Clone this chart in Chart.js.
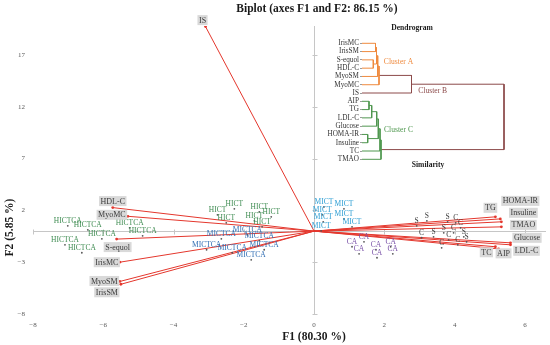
<!DOCTYPE html>
<html>
<head>
<meta charset="utf-8">
<script src="https://cdn.jsdelivr.net/npm/chart.js@4.4.1/dist/chart.umd.min.js"></script>
<style>
  html, body { margin: 0; padding: 0; background: #fff; }
  #wrap { position: relative; width: 550px; height: 345px; }
  #wrap canvas { position: absolute; left: 0; top: 0; }
</style>
</head>
<body>
<div id="wrap">
  <canvas id="biplot" width="550" height="345"></canvas>
  <canvas id="dendro" width="550" height="345"></canvas>
</div>
<script>
'use strict';

var xTicks = [-8, -6, -4, -2, 0, 2, 4, 6];
var yTicks = [-8, -3, 2, 7, 12, 17];

// observations, [F1, F2]
var groupNames = ['HICTCA', 'HICT', 'MICTCA', 'MICT', 'CA', 'S', 'C'];
var hictca = [[-7.01, 0.51], [-6.44, 0.13], [-5.25, 0.32], [-4.88, -0.45], [-6.04, -0.74], [-7.09, -1.32], [-6.61, -2.09]];
var hict = [[-2.75, 1.57], [-2.27, 2.15], [-1.56, 1.86], [-1.22, 1.38], [-1.70, 0.99], [-2.50, 0.80], [-1.48, 0.41]];
var mictca = [[-1.90, -0.36], [-2.64, -0.74], [-1.56, -0.93], [-3.06, -1.80], [-2.33, -2.09], [-1.42, -1.80], [-1.79, -2.77]];
var mict = [[0.28, 2.34], [0.85, 2.15], [0.23, 1.57], [0.85, 1.18], [0.26, 0.90], [0.20, 0.03], [1.08, 0.41]];
var ca = [[1.42, -1.03], [1.08, -1.51], [1.76, -1.80], [2.18, -1.51], [1.28, -2.19], [1.79, -2.57], [2.24, -2.19]];
var sGroup = [[2.92, 0.51], [3.21, 0.99], [3.80, 0.90], [3.40, -0.55], [3.69, -0.16], [4.26, -0.55], [4.34, -1.03]];
var cGroup = [[4.03, 0.80], [4.17, 0.32], [3.06, -0.64], [3.83, -0.84], [3.97, -0.16], [3.63, -1.61], [4.09, -1.32]];
var groups = [hictca, hict, mictca, mict, ca, sGroup, cGroup];

// variables (loadings)
var varNames = ['IS', 'HDL-C', 'MyoMC', 'S-equol', 'IrisMC', 'MyoSM', 'IrisSM',
  'TG', 'HOMA-IR', 'Insuline', 'TMAO', 'Glucose', 'LDL-C', 'TC', 'AIP'];
var varF1 = [-3.09, -5.73, -5.30, -5.62, -5.53, -5.53, -5.50, 5.16, 5.30, 5.33, 5.33, 5.59, 5.59, 5.16, 5.25];
var varF2 = [19.74, 2.27, 1.43, -0.77, -3.00, -4.86, -5.13, 1.38, 1.18, 0.90, 0.41, -1.13, -1.32, -1.51, -1.71];

// dendrogram
var leafNames = ['IrisMC', 'IrisSM', 'S-equol', 'HDL-C', 'MyoSM', 'MyoMC', 'IS',
  'AIP', 'TG', 'LDL-C', 'Glucose', 'HOMA-IR', 'Insuline', 'TC', 'TMAO'];
// [node a, node b, level]; ids from 15 up are earlier merges
var merges = [[0, 1, 13.5], [2, 3, 11.3], [15, 16, 14.5], [17, 4, 15.7], [18, 5, 17], [19, 6, 49.5],
  [7, 8, 7], [21, 9, 9.7], [22, 10, 14.7], [11, 12, 5.7], [23, 24, 16.3], [25, 13, 18], [26, 14, 19],
  [20, 27, 142]];
var mergeCluster = ['A', 'A', 'A', 'A', 'A', 'B', 'C', 'C', 'C', 'C', 'C', 'C', 'C', 'B'];

var SERIF = "'Liberation Serif', 'Times New Roman', serif";
var groupColors = ['#3f8c52', '#3f8c52', '#2f6db3', '#2b9dd3', '#7a52a8', '#3a3a3a', '#3a3a3a'];
var clusterColors = { A: '#ef8a3e', B: '#8c4a4a', C: '#4f974f' };
var RED = 'rgb(228, 55, 45)';

// label box offsets from the arrow tip, px
var varLabelOffset = {
  'IS': [-3, -6.5], 'HDL-C': [0, -6.5], 'MyoMC': [-16, -1.5], 'S-equol': [1, 8], 'IrisMC': [-13, 0],
  'MyoSM': [-15.5, -0.5], 'IrisSM': [-14, 8], 'TG': [-5, -9], 'HOMA-IR': [20, -18], 'Insuline': [22, -9],
  'TMAO': [22, -2], 'Glucose': [16.5, -5], 'LDL-C': [16, 6], 'TC': [-9, 5.5], 'AIP': [5, 4.5]
};

function minus(v) {
  return v < 0 ? '\u2212' + Math.abs(v) : String(v);
}

var obsSets = groups.map(function (g, i) {
  return {
    label: groupNames[i],
    data: g.map(function (p) { return { x: p[0], y: p[1] }; }),
    pointRadius: 0.9,
    pointBackgroundColor: '#555',
    pointBorderWidth: 0,
    showLine: false
  };
});

var vecSets = varNames.map(function (n, i) {
  return {
    label: n,
    data: [{ x: 0, y: 0 }, { x: varF1[i], y: varF2[i] }],
    showLine: true,
    borderColor: RED,
    borderWidth: 1,
    pointRadius: [0, 1.4],
    pointBackgroundColor: RED,
    pointBorderWidth: 0
  };
});

var biplotDecor = {
  id: 'biplotDecor',
  beforeDatasetsDraw: function (chart) {
    var ctx = chart.ctx, xs = chart.scales.x, ys = chart.scales.y, a = chart.chartArea;
    var x0 = Math.round(xs.getPixelForValue(0)) + 0.5;
    var y0 = Math.round(ys.getPixelForValue(0)) + 0.5;
    ctx.save();
    ctx.strokeStyle = '#c6c6c6';
    ctx.lineWidth = 1;
    ctx.beginPath();
    ctx.moveTo(a.left, y0); ctx.lineTo(a.right, y0);
    ctx.moveTo(x0, a.top); ctx.lineTo(x0, a.bottom);
    xTicks.forEach(function (v) {
      var p = Math.round(xs.getPixelForValue(v)) + 0.5;
      ctx.moveTo(p, y0 - 2); ctx.lineTo(p, y0 + 3);
    });
    yTicks.forEach(function (v) {
      var p = Math.round(ys.getPixelForValue(v)) + 0.5;
      ctx.moveTo(x0 - 2, p); ctx.lineTo(x0 + 3, p);
    });
    ctx.stroke();
    ctx.restore();
  },
  afterDatasetsDraw: function (chart) {
    var ctx = chart.ctx, xs = chart.scales.x, ys = chart.scales.y;
    ctx.save();
    ctx.textAlign = 'center';
    ctx.textBaseline = 'middle';
    // observation labels
    ctx.font = '7.5px ' + SERIF;
    groups.forEach(function (g, i) {
      ctx.fillStyle = groupColors[i];
      g.forEach(function (p) {
        ctx.fillText(groupNames[i], xs.getPixelForValue(p[0]), ys.getPixelForValue(p[1]) - 5);
      });
    });
    // variable labels in grey boxes
    ctx.font = '8px ' + SERIF;
    varNames.forEach(function (n, i) {
      var off = varLabelOffset[n];
      var cx = xs.getPixelForValue(varF1[i]) + off[0];
      var cy = ys.getPixelForValue(varF2[i]) + off[1];
      var w = ctx.measureText(n).width + 3;
      ctx.fillStyle = '#d9d9d9';
      ctx.fillRect(cx - w / 2, cy - 5, w, 10);
      ctx.fillStyle = '#3a3a3a';
      ctx.fillText(n, cx, cy + 0.5);
    });
    ctx.restore();
  },
  afterDraw: function (chart) {
    var ctx = chart.ctx;
    ctx.save();
    ctx.fillStyle = '#1a1a1a';
    ctx.textAlign = 'center';
    ctx.textBaseline = 'middle';
    ctx.font = 'bold 11.5px ' + SERIF;
    ctx.fillText('Biplot (axes F1 and F2: 86.15 %)', 317, 9.5);
    ctx.fillText('F1 (80.30 %)', 314, 337.5);
    ctx.translate(10.5, 227.5);
    ctx.rotate(-Math.PI / 2);
    ctx.fillText('F2 (5.85 %)', 0, 0);
    ctx.restore();
  }
};

var tickFont = { family: SERIF, size: 7 };

new Chart(document.getElementById('biplot'), {
  type: 'scatter',
  data: { datasets: obsSets.concat(vecSets) },
  options: {
    responsive: false,
    animation: false,
    devicePixelRatio: 1,
    layout: { padding: { top: 26, right: 2, left: 0, bottom: 11 } },
    plugins: { legend: { display: false }, tooltip: { enabled: false } },
    scales: {
      x: {
        type: 'linear', min: -8, max: 6.6,
        grid: { display: false, drawTicks: false }, border: { display: false },
        afterBuildTicks: function (s) { s.ticks = xTicks.map(function (v) { return { value: v }; }); },
        afterFit: function (s) { s.height = 20; },
        ticks: { padding: 7, color: '#5a5a5a', font: tickFont, maxRotation: 0, callback: minus }
      },
      y: {
        type: 'linear', min: -8, max: 19.8,
        grid: { display: false, drawTicks: false }, border: { display: false },
        afterBuildTicks: function (s) { s.ticks = yTicks.map(function (v) { return { value: v }; }); },
        afterFit: function (s) { s.width = 33; },
        ticks: { padding: 8, color: '#5a5a5a', font: tickFont, callback: minus }
      }
    }
  },
  plugins: [biplotDecor]
});

// dendrogram inset
var nodeY = leafNames.map(function (_, i) { return i; });
var nodeH = leafNames.map(function () { return 0; });
var dendroSets = merges.map(function (m, k) {
  var a = m[0], b = m[1], h = m[2];
  var pts = [
    { x: nodeH[a], y: nodeY[a] }, { x: h, y: nodeY[a] },
    { x: h, y: nodeY[b] }, { x: nodeH[b], y: nodeY[b] }
  ];
  nodeY.push((nodeY[a] + nodeY[b]) / 2);
  nodeH.push(h);
  return {
    data: pts,
    showLine: true,
    borderColor: clusterColors[mergeCluster[k]],
    borderWidth: 1,
    pointRadius: 0,
    clip: false
  };
});

var dendroText = {
  id: 'dendroText',
  afterDraw: function (chart) {
    var ctx = chart.ctx;
    ctx.save();
    ctx.textAlign = 'center';
    ctx.textBaseline = 'middle';
    ctx.fillStyle = '#1a1a1a';
    ctx.font = 'bold 7.6px ' + SERIF;
    ctx.fillText('Dendrogram', 412, 28.5);
    ctx.fillText('Similarity', 428, 165.5);
    ctx.font = '7.6px ' + SERIF;
    ctx.fillStyle = clusterColors.A;
    ctx.fillText('Cluster A', 398.5, 61.7);
    ctx.fillStyle = clusterColors.B;
    ctx.fillText('Cluster B', 432.7, 90.7);
    ctx.fillStyle = clusterColors.C;
    ctx.fillText('Cluster C', 398.5, 130);
    ctx.restore();
  }
};

new Chart(document.getElementById('dendro'), {
  type: 'scatter',
  data: { datasets: dendroSets },
  options: {
    responsive: false,
    animation: false,
    devicePixelRatio: 1,
    layout: { padding: { top: 43.3, right: 46, left: 300, bottom: 185.7 } },
    plugins: { legend: { display: false }, tooltip: { enabled: false } },
    scales: {
      x: { type: 'linear', min: 0, max: 142, display: false },
      y: {
        type: 'linear', min: 0, max: leafNames.length - 1, reverse: true,
        border: { display: false },
        grid: { drawOnChartArea: false, tickLength: 2, color: '#9a9a9a' },
        afterBuildTicks: function (s) { s.ticks = leafNames.map(function (_, i) { return { value: i }; }); },
        afterFit: function (s) { s.width = 62; },
        ticks: {
          padding: 1, color: '#333', font: { family: SERIF, size: 7.2 }, autoSkip: false,
          callback: function (v) { return leafNames[v]; }
        }
      }
    }
  },
  plugins: [dendroText]
});
</script>
</body>
</html>
